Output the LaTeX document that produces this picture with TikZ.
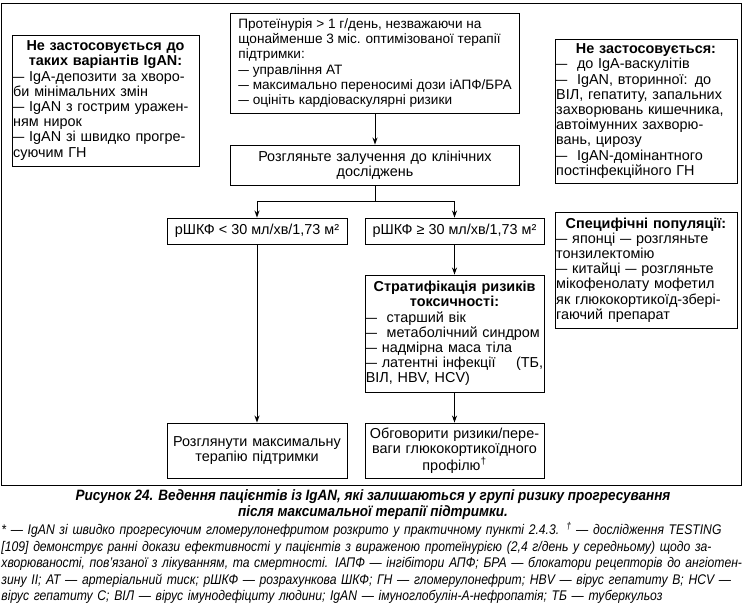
\documentclass[tikz,border=0pt]{standalone}
\usepackage{fontspec}
\usepackage{graphicx}
\setmainfont{Liberation Sans}
\newfontfamily\condfont[FakeStretch=0.87]{Liberation Sans}
\newfontfamily\capfont[FakeStretch=0.9]{Liberation Sans}
\usetikzlibrary{arrows.meta}
\newcommand{\ttl}[1]{\makebox[\hsize][c]{\bfseries #1}}
\newcommand{\dsh}{\scalebox{0.78}[1]{—}}
\newcommand{\fline}[1]{\makebox[740pt][s]{#1}}
\newcommand{\flinelast}[1]{\makebox[740pt][l]{#1}}
\begin{document}
\begin{tikzpicture}[x=1pt,y=-1pt,
  box/.style={draw, line width=0.9pt, inner sep=1.2pt, font=\fontsize{14.4}{15.2}\selectfont},
  arr/.style={-{Stealth[length=7pt,width=5pt]}, line width=0.9pt},
  conn/.style={line width=0.9pt}]
\useasboundingbox (0,0) rectangle (747,609);
\node[draw, line width=1pt, minimum width=740pt, minimum height=481pt, inner sep=0pt] (frame) at (371.5,244.5) {};
% left box
\node[box, text width=184.6pt, minimum height=131pt, align=left] (L1) at (105.5,100.5) {%
\ttl{Не застосовується до}\\
\ttl{таких варіантів IgAN:}\\
\dsh{} IgA-депозити за хворо-\\
би мінімальних змін\\
\dsh{} IgAN з гострим уражен-\\
ням нирок\\
\dsh{} IgAN зі швидко прогре-\\
суючим ГН};
% top box
\node[box, font=\fontsize{13.6}{15.3}\selectfont, minimum width=289pt, minimum height=100pt, align=left] (T) at (375,63) {%
Протеїнурія > 1 г/день, незважаючи на\\
щонайменше 3 міс. оптимізованої терапії\\
підтримки:\\
\dsh{} управління АТ\\
\dsh{} максимально переносимі дози іАПФ/БРА\\
\dsh{} оцініть кардіоваскулярні ризики};
% clinical trials
\node[box, text width=286pt, minimum height=40pt, align=center] (C) at (375,165) {%
Розгляньте залучення до клінічних\\ досліджень};
% right box 1
\node[box, text width=179.6pt, minimum height=144pt, align=left] (R1) at (646,111) {%
\ttl{Не застосовується:}\\
\dsh\ \ до IgA-васкулітів\\
\dsh\ \ IgAN, вторинної: до\\
ВІЛ, гепатиту, запальних\\
захворювань кишечника,\\
автоімунних захворю-\\
вань, цирозу\\
\dsh\ \ IgAN-домінантного\\
постінфекційного ГН};
% right box 2
\node[box, text width=179.6pt, minimum height=116pt, align=left] (R2) at (646,270) {%
\ttl{Специфічні популяції:}\\
\dsh{} японці \dsh{} розгляньте\\
тонзилектомію\\
\dsh{} китайці \dsh{} розгляньте\\
мікофенолату мофетил\\
як глюкокортикоїд-зберi-\\
гаючий препарат};
% eGFR boxes
\node[box, minimum width=180pt, minimum height=26pt] (A) at (257,231) {рШКФ < 30 мл/хв/1,73 м²};
\node[box, minimum width=179pt, minimum height=26pt] (B) at (454.5,231) {рШКФ ≥ 30 мл/хв/1,73 м²};
% stratification
\node[box, inner sep=0.8pt, text width=177.4pt, minimum height=117pt, align=left] (S) at (454.5,333.5) {%
\ttl{Стратифікація ризиків}\\
\ttl{токсичності:}\\
\dsh\ \ старший вік\\
\dsh\ \ метаболічний синдром\\
\dsh{} надмірна маса тіла\\
\dsh{} латентні інфекції\hfill(ТБ,\ \\
ВІЛ, HBV, HCV)};
% bottom boxes
\node[box, text width=177.6pt, minimum height=55pt, align=center] (D) at (257,450.5) {%
Розглянути максимальну\\ терапію підтримки};
\node[box, text width=176.6pt, minimum height=55pt, align=center] (E) at (454.5,450.5) {%
Обговорити ризики/пере-\\ ваги глюкокортикоїдного\\ профілю\textsuperscript{†}};
% connectors
\coordinate (split) at (375,201);
\draw[arr] (T.south) -- (C.north);
\draw[conn] (C.south) -- (split);
\draw[arr] (split) -| (A.north);
\draw[arr] (split) -| (B.north);
\draw[arr] (A.south) -- (D.north);
\draw[arr] (B.south) -- (S.north);
\draw[arr] (S.south) -- (E.north);
% caption
\node[font=\capfont\bfseries\itshape\fontsize{15}{16.2}\selectfont, align=center, inner sep=0pt] (cap) at (373,505) {%
Рисунок 24. Ведення пацієнтів із IgAN, які залишаються у групі ризику прогресування\\
після максимальної терапії підтримки.};
% footnote
\node[font=\condfont\itshape\fontsize{14}{16.5}\selectfont, text width=740pt, align=left, inner sep=0pt, anchor=north] (fn) at (371.5,522) {%
\fline{* — IgAN зі швидко прогресуючим гломерулонефритом розкрито у практичному пункті 2.4.3. \textsuperscript{†} — дослідження TESTING}\\
\fline{[109] демонструє ранні докази ефективності у пацієнтів з вираженою протеїнурією (2,4 г/день у середньому) щодо за-}\\
\fline{хворюваності, пов’язаної з лікуванням, та смертності. ІАПФ — інгібітори АПФ; БРА — блокатори рецепторів до ангіотен-}\\
\fline{зину II; АТ — артеріальний тиск; рШКФ — розрахункова ШКФ; ГН — гломерулонефрит; HBV — вірус гепатиту B; HCV —}\\
\flinelast{вірус гепатиту C; ВІЛ — вірус імунодефіциту людини; IgAN — імуноглобулін-A-нефропатія; ТБ — туберкульоз}};
\end{tikzpicture}
\end{document}
